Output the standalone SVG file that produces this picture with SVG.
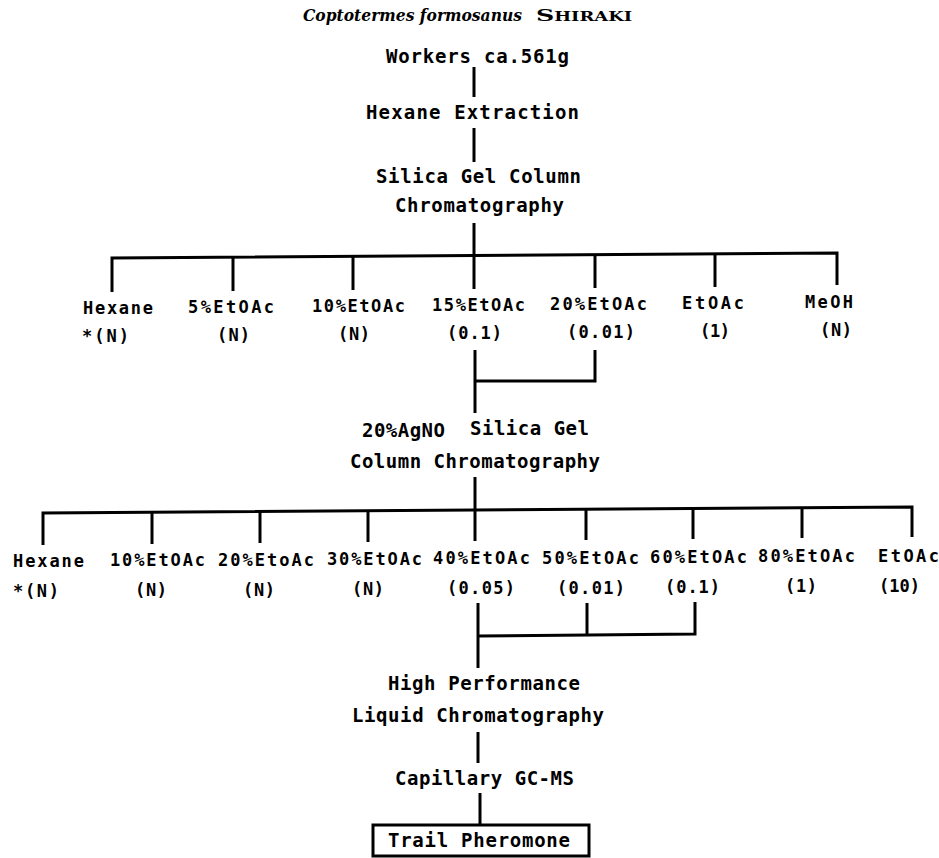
<svg xmlns="http://www.w3.org/2000/svg" width="939" height="858" viewBox="0 0 939 858">
<style>
  .bg { fill: #ffffff; }
  text { fill: #000; font-family: "DejaVu Sans Mono", "Liberation Mono", monospace; font-weight: bold; }
  .t { font-size: 19px; }
  .r { font-size: 17px; }
  .title { font-family: "DejaVu Serif", "Liberation Serif", serif; font-weight: bold; font-size: 16px; font-style: italic; }
  .sc { font-family: "DejaVu Serif", "Liberation Serif", serif; font-weight: bold; font-size: 17px; font-variant: small-caps; }
  .ln { fill: none; stroke: #000; stroke-width: 3; stroke-linecap: butt; stroke-linejoin: miter; }
  .box { fill: #fff; stroke: #000; stroke-width: 3; }
</style>
<rect class="bg" x="0" y="0" width="939" height="858"/>

<g id="connectors">
  <path class="ln" d="M474 67 V97"/>
  <path class="ln" d="M474 128 V162"/>
  <path class="ln" d="M474 223 V289"/>
  <path class="ln" d="M112 292 L112 258 L837 253 L837 285"/>
  <path class="ln" d="M233 257 V291"/>
  <path class="ln" d="M353 256 V290"/>
  <path class="ln" d="M595 255 V288"/>
  <path class="ln" d="M715 254 V287"/>
  <path class="ln" d="M475 350 V413"/>
  <path class="ln" d="M595 350 V381 H475"/>
  <path class="ln" d="M475 477 V541"/>
  <path class="ln" d="M43 545 L43 513 L912 507 L912 537"/>
  <path class="ln" d="M152 512 V544"/>
  <path class="ln" d="M260 511.5 V543"/>
  <path class="ln" d="M368 511 V542"/>
  <path class="ln" d="M586 509 V540"/>
  <path class="ln" d="M693 508.5 V539"/>
  <path class="ln" d="M802 508 V538"/>
  <path class="ln" d="M478 603 V668"/>
  <path class="ln" d="M587 603 V635"/>
  <path class="ln" d="M695 602 V634 L478 636"/>
  <path class="ln" d="M478 732 V763"/>
  <path class="ln" d="M480 793 V825"/>
</g>

<g id="title">
  <text class="title" x="303" y="21" textLength="219" lengthAdjust="spacingAndGlyphs">Coptotermes formosanus</text>
  <text class="sc" x="536" y="21" textLength="96" lengthAdjust="spacingAndGlyphs">Shiraki</text>
</g>
<g id="workers"><text class="t" x="386" y="63" textLength="183" lengthAdjust="spacing">Workers ca.561g</text></g>
<g id="hexane-extraction"><text class="t" x="366" y="119" textLength="213" lengthAdjust="spacing">Hexane Extraction</text></g>
<g id="silica-column">
  <text class="t" x="376" y="183" textLength="205" lengthAdjust="spacing">Silica Gel Column</text>
  <text class="t" x="395" y="212" textLength="169" lengthAdjust="spacing">Chromatography</text>
</g>

<g id="f1-hexane"><text class="r" x="83" y="314" textLength="70" lengthAdjust="spacing">Hexane</text><text class="r" x="82" y="342" textLength="47" lengthAdjust="spacing">*(N)</text></g>
<g id="f1-5"><text class="r" x="188" y="313" textLength="86" lengthAdjust="spacing">5%EtOAc</text><text class="r" x="217" y="341" textLength="33" lengthAdjust="spacing">(N)</text></g>
<g id="f1-10"><text class="r" x="312" y="312" textLength="93" lengthAdjust="spacing">10%EtOAc</text><text class="r" x="338" y="340" textLength="32" lengthAdjust="spacing">(N)</text></g>
<g id="f1-15"><text class="r" x="432" y="311" textLength="93" lengthAdjust="spacing">15%EtOAc</text><text class="r" x="447" y="339" textLength="55" lengthAdjust="spacing">(0.1)</text></g>
<g id="f1-20"><text class="r" x="550" y="310" textLength="97" lengthAdjust="spacing">20%EtOAc</text><text class="r" x="567" y="338" textLength="68" lengthAdjust="spacing">(0.01)</text></g>
<g id="f1-etoac"><text class="r" x="682" y="309" textLength="62" lengthAdjust="spacing">EtOAc</text><text class="r" x="700" y="337" textLength="30" lengthAdjust="spacing">(1)</text></g>
<g id="f1-meoh"><text class="r" x="805" y="308" textLength="48" lengthAdjust="spacing">MeOH</text><text class="r" x="820" y="336" textLength="32" lengthAdjust="spacing">(N)</text></g>

<g id="agno-column">
  <text class="t" x="362" y="437" textLength="83" lengthAdjust="spacing">20%AgNO</text>
  <text class="t" x="470" y="435" textLength="119" lengthAdjust="spacing">Silica Gel</text>
  <text class="t" x="350" y="468" textLength="250" lengthAdjust="spacing">Column Chromatography</text>
</g>

<g id="f2-hexane"><text class="r" x="13" y="567" textLength="71" lengthAdjust="spacing">Hexane</text><text class="r" x="13" y="597" textLength="46" lengthAdjust="spacing">*(N)</text></g>
<g id="f2-10"><text class="r" x="110" y="566" textLength="95" lengthAdjust="spacing">10%EtOAc</text><text class="r" x="135" y="596" textLength="32" lengthAdjust="spacing">(N)</text></g>
<g id="f2-20"><text class="r" x="218" y="566" textLength="96" lengthAdjust="spacing">20%EtoAc</text><text class="r" x="243" y="596" textLength="32" lengthAdjust="spacing">(N)</text></g>
<g id="f2-30"><text class="r" x="327" y="565" textLength="95" lengthAdjust="spacing">30%EtOAc</text><text class="r" x="352" y="595" textLength="32" lengthAdjust="spacing">(N)</text></g>
<g id="f2-40"><text class="r" x="433" y="564" textLength="97" lengthAdjust="spacing">40%EtOAc</text><text class="r" x="447" y="594" textLength="68" lengthAdjust="spacing">(0.05)</text></g>
<g id="f2-50"><text class="r" x="542" y="564" textLength="97" lengthAdjust="spacing">50%EtOAc</text><text class="r" x="557" y="594" textLength="68" lengthAdjust="spacing">(0.01)</text></g>
<g id="f2-60"><text class="r" x="650" y="563" textLength="97" lengthAdjust="spacing">60%EtOAc</text><text class="r" x="665" y="593" textLength="55" lengthAdjust="spacing">(0.1)</text></g>
<g id="f2-80"><text class="r" x="758" y="562" textLength="97" lengthAdjust="spacing">80%EtOAc</text><text class="r" x="785" y="592" textLength="32" lengthAdjust="spacing">(1)</text></g>
<g id="f2-etoac"><text class="r" x="878" y="562" textLength="61" lengthAdjust="spacing">EtOAc</text><text class="r" x="879" y="592">(10)</text></g>

<g id="hplc">
  <text class="t" x="388" y="690" textLength="192" lengthAdjust="spacing">High Performance</text>
  <text class="t" x="352" y="722" textLength="252" lengthAdjust="spacing">Liquid Chromatography</text>
</g>
<g id="gcms"><text class="t" x="395" y="785" textLength="179" lengthAdjust="spacing">Capillary GC-MS</text></g>
<g id="trail-pheromone">
  <rect class="box" x="373" y="825" width="216" height="31"/>
  <text class="t" x="388" y="847" textLength="182" lengthAdjust="spacing">Trail Pheromone</text>
</g>
</svg>
